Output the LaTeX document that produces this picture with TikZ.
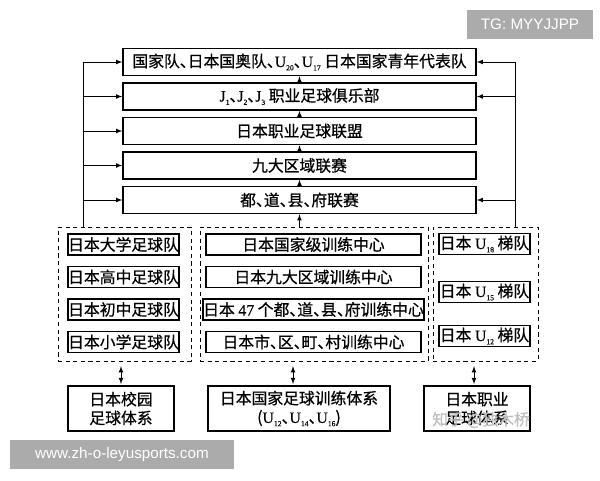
\documentclass[tikz,border=0pt]{standalone}
\usepackage{fontspec}
\setmainfont{Noto Sans CJK SC}[FakeBold=0.7]
\newfontfamily\latfont{Liberation Serif}[FakeBold=0.4]
\newfontfamily\markfont{Liberation Sans}
\usetikzlibrary{arrows,calc}
% latin letter with a small index, e.g. U_{20}
\newcommand{\usub}[2]{{\latfont #1\raisebox{-0.45ex}{\fontsize{6.5}{7}\selectfont #2}}}
% narrow enumeration comma
\newcommand{\dn}{\makebox[0.5em][l]{、}}
\tikzset{lvl/.style={draw,rectangle,line width=1.3pt,minimum width=10.59cm,minimum height=0.81cm,inner sep=0pt}}
\tikzset{team/.style={draw,rectangle,line width=1.3pt,minimum height=0.64cm,inner sep=0pt}}
\tikzset{grp/.style={draw,dash pattern=on 3.5pt off 3pt,line width=0.8pt,inner sep=0pt,minimum height=4.02cm}}
\tikzset{sys/.style={draw,rectangle,line width=1.3pt,minimum height=1.35cm,inner sep=0pt,align=center}}
\tikzset{wmark/.style={fill=black!33,text=white,inner sep=0pt,font=\markfont\fontsize{13}{15}\selectfont}}

\begin{document}
\begin{tikzpicture}[x=0.03cm,y=-0.03cm,>=latex,line width=0.8pt,font=\fontsize{13.5}{16}\selectfont]
		\useasboundingbox (0,0) rectangle (600,480);
		
		% league levels
		\node[lvl] (lvl1) at (299.5,62) {国家队\dn 日本国奥队\dn\usub{U}{20}\dn\usub{U}{17} 日本国家青年代表队};
		\node[lvl] (lvl2) at (299.5,96.5) {\usub{J}{1}\dn\usub{J}{2}\dn\usub{J}{3} 职业足球俱乐部};
		\node[lvl] (lvl3) at (299.5,131) {日本职业足球联盟};
		\node[lvl] (lvl4) at (299.5,165.5) {九大区域联赛};
		\node[lvl] (lvl5) at (299.5,200) {都\dn 道\dn 县\dn 府联赛};
		
		% groups
		\node[grp, minimum width=3.99cm] (grpL) at (124.5,294) {};
		\node[grp, minimum width=6.84cm] (grpM) at (314,294) {};
		\node[grp, minimum width=3.15cm] (grpR) at (485.5,294) {};
		
		\node[team, minimum width=3.33cm] (uni) at (123.5,244.5) {日本大学足球队};
		\node[team, minimum width=3.33cm] (high) at (123.5,277) {日本高中足球队};
		\node[team, minimum width=3.33cm] (mid) at (123.5,309.5) {日本初中足球队};
		\node[team, minimum width=3.33cm] (prim) at (123.5,342) {日本小学足球队};
		
		\node[team, minimum width=6.45cm] (nat) at (313.5,244.5) {日本国家级训练中心};
		\node[team, minimum width=6.45cm] (reg) at (313.5,277) {日本九大区域训练中心};
		\node[team, minimum width=6.45cm] (pref) at (313.5,309.5) {日本 {\latfont 47} 个都\dn 道\dn 县\dn 府训练中心};
		\node[team, minimum width=6.45cm] (city) at (313.5,342) {日本市\dn 区\dn 町\dn 村训练中心};
		
		\node[team, minimum width=2.73cm] (u18) at (484.5,244) {日本 \usub{U}{18} 梯队};
		\node[team, minimum width=2.73cm] (u15) at (484.5,292) {日本 \usub{U}{15} 梯队};
		\node[team, minimum width=2.73cm] (u12) at (484.5,336) {日本 \usub{U}{12} 梯队};
		
		% systems
		\node[sys, minimum width=3.18cm] (campus) at (121,408.5) {日本校园\\足球体系};
		\node[sys, minimum width=5.46cm] (train) at (299,408.5) {日本国家足球训练体系\\(\usub{U}{12}\dn\usub{U}{14}\dn\usub{U}{16})};
		\node[sys, minimum width=3.18cm] (pro) at (477,408.5) {日本职业\\足球体系};
		
		% buses
		\coordinate (leftbus) at (83,62);
		\coordinate (rightbus) at (515,62);
		\draw (leftbus) -- (leftbus |- grpL.north);
		\draw (rightbus) -- (rightbus |- grpR.north);
		\foreach \n in {1,...,5}
			\draw[->] (leftbus |- lvl\n.west) -- (lvl\n.west);
		\foreach \n in {1,2,5}
			\draw[->] (rightbus |- lvl\n.east) -- (lvl\n.east);
		\foreach \a/\b in {2/1,3/2,4/3,5/4}
			\draw[->] (lvl\a.north) -- (lvl\b.south);
		\draw[->] (lvl5.south |- grpM.north) -- (lvl5.south);
		
		\draw[<->,shorten <=4pt,shorten >=1pt] (grpL.south -| campus.north) -- (campus.north);
		\draw[<->,shorten <=4pt,shorten >=1pt] ($(grpM.south -| train.north)+(-6,0)$) -- ($(train.north)+(-6,0)$);
		\draw[<->,shorten <=4pt,shorten >=1pt] ($(grpR.south -| pro.north)+(-3,0)$) -- ($(pro.north)+(-3,0)$);
		
		% marks
		\node[text=black!25] (zhihu) at (481,420) {知乎 @独木桥};
		\node[wmark, minimum width=3.78cm, minimum height=0.87cm] (tg) at (530,24.5) {TG: MYYJJPP};
		\node[wmark, minimum width=6.72cm, minimum height=0.87cm] (site) at (122,454.5) {www.zh-o-leyusports.com};
		
		\end{tikzpicture}
\end{document}
